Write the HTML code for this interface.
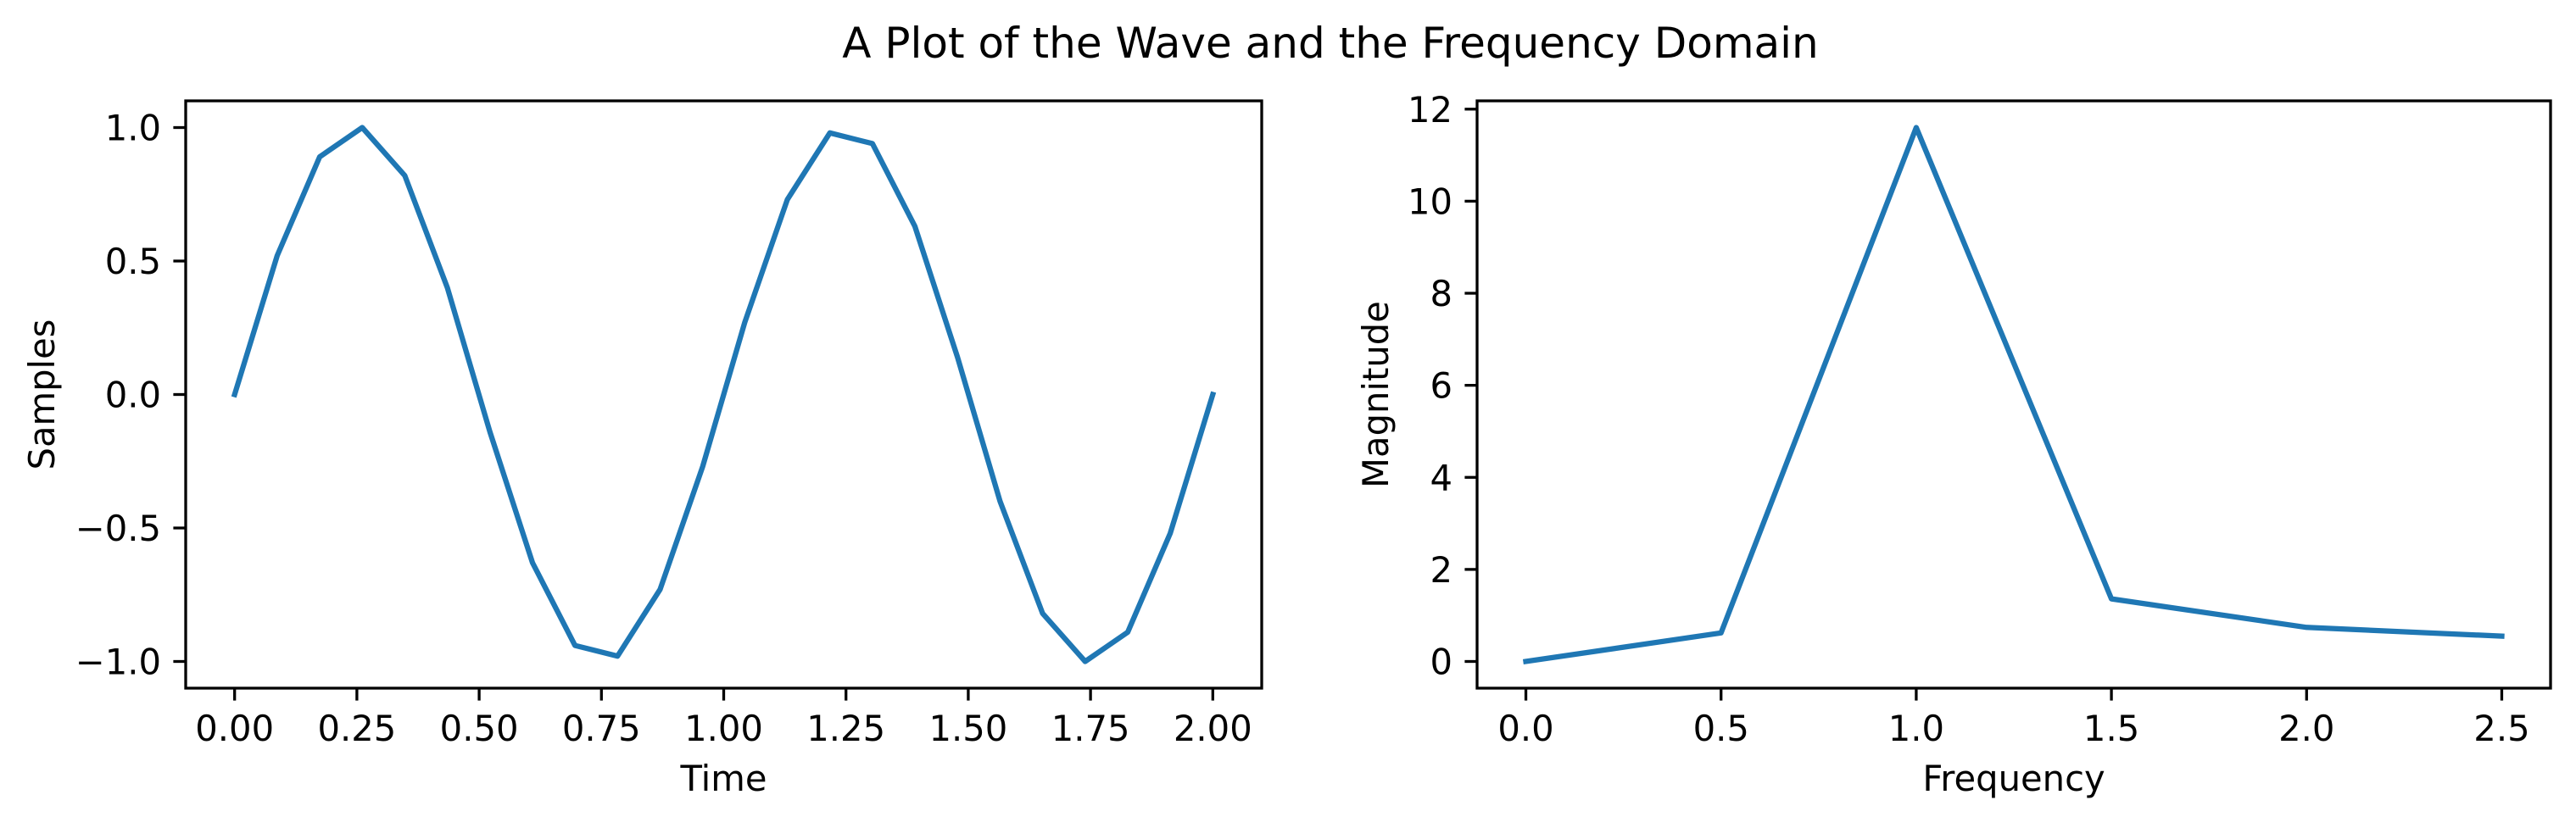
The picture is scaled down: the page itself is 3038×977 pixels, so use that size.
<!DOCTYPE html>
<html><head><meta charset="utf-8"><style>
html,body{margin:0;padding:0;background:#fff;}
svg text{font-family:"DejaVu Sans","Liberation Sans",sans-serif;fill:#000;}
</style></head><body>
<svg id="fig" xmlns="http://www.w3.org/2000/svg" width="3038" height="972" viewBox="0 0 3038 972">
<rect width="3038" height="972" fill="#fff"/>
<text x="1569" y="68" font-size="50" text-anchor="middle">A Plot of the Wave and the Frequency Domain</text>
<g id="left"></g>
<g id="right"></g>
</svg>
<script>
const waveTimes = [0,0.087,0.174,0.261,0.348,0.435,0.522,0.609,0.696,0.783,0.870,0.957,1.043,1.130,1.217,1.304,1.391,1.478,1.565,1.652,1.739,1.826,1.913,2.0];
const waveSamples = [0,0.52,0.89,1.0,0.82,0.40,-0.14,-0.63,-0.94,-0.98,-0.73,-0.27,0.27,0.73,0.98,0.94,0.63,0.14,-0.40,-0.82,-1.0,-0.89,-0.52,0.0];
const waveXTicks = [0,0.25,0.5,0.75,1.0,1.25,1.5,1.75,2.0];
const waveXTickLabels = ["0.00","0.25","0.50","0.75","1.00","1.25","1.50","1.75","2.00"];
const waveYTicks = [-1.0,-0.5,0,0.5,1.0];
const waveYTickLabels = ["\u22121.0","\u22120.5","0.0","0.5","1.0"];
const freqValues = [0,0.5,1.0,1.5,2.0,2.5];
const freqMagnitudes = [0,0.62,11.6,1.36,0.74,0.55];
const freqXTicks = [0,0.5,1.0,1.5,2.0,2.5];
const freqXTickLabels = ["0.0","0.5","1.0","1.5","2.0","2.5"];
const freqYTicks = [0,2,4,6,8,10,12];
const freqYTickLabels = ["0","2","4","6","8","10","12"];

const NS="http://www.w3.org/2000/svg";
function mk(parent,tag,attrs){const e=document.createElementNS(NS,tag);for(const k in attrs)e.setAttribute(k,attrs[k]);parent.appendChild(e);return e;}

function drawPlot(g,box,xd,yd,xs,ys,xt,xtl,yt,ytl,xlabel,ylabel,ylabX,prefix){
  const sx=v=>box.l+(v-xd[0])/(xd[1]-xd[0])*(box.r-box.l);
  const sy=v=>box.b-(v-yd[0])/(yd[1]-yd[0])*(box.b-box.t);
  const pts=xs.map((x,i)=>sx(x).toFixed(1)+","+sy(ys[i]).toFixed(1)).join(" ");
  const line=mk(g,"polyline",{points:pts,fill:"none",stroke:"#1f77b4","stroke-width":6.25,"stroke-linejoin":"round","stroke-linecap":"square"});
  
  
  xt.forEach((v,i)=>{
    const x=sx(v);
    const t=mk(g,"line",{x1:x,x2:x,y1:box.b,y2:box.b+14.6,stroke:"#000","stroke-width":3.3});
    
    
    const l=mk(g,"text",{x:x,y:874,"font-size":41.7,"text-anchor":"middle"});
    l.textContent=xtl[i];
    
    
  });
  yt.forEach((v,i)=>{
    const y=sy(v);
    const t=mk(g,"line",{x1:box.l-14.6,x2:box.l,y1:y,y2:y,stroke:"#000","stroke-width":3.3});
    
    
    const l=mk(g,"text",{x:box.l-29,y:y+15,"font-size":41.7,"text-anchor":"end"});
    l.textContent=ytl[i];
    
    
  });
  const fr=mk(g,"rect",{x:box.l,y:box.t,width:box.r-box.l,height:box.b-box.t,fill:"none",stroke:"#000","stroke-width":3.3});
  
  
  const xl=mk(g,"text",{x:(box.l+box.r)/2,y:933,"font-size":41.7,"text-anchor":"middle"});
  xl.textContent=xlabel;
  
  
  const cy=(box.t+box.b)/2;
  const yl=mk(g,"text",{x:ylabX,y:cy,"font-size":41.7,"text-anchor":"middle",transform:"rotate(-90 "+ylabX+" "+cy+")"});
  yl.textContent=ylabel;
  
  
}
drawPlot(document.getElementById("left"),{l:219,r:1488,t:119,b:812},[-0.1,2.1],[-1.1,1.1],
  waveTimes,waveSamples,waveXTicks,waveXTickLabels,waveYTicks,waveYTickLabels,"Time","Samples",64,"wave");
drawPlot(document.getElementById("right"),{l:1742,r:3008,t:119,b:812},[-0.125,2.625],[-0.58,12.18],
  freqValues,freqMagnitudes,freqXTicks,freqXTickLabels,freqYTicks,freqYTickLabels,"Frequency","Magnitude",1637,"freq");
</script>
</body></html>
